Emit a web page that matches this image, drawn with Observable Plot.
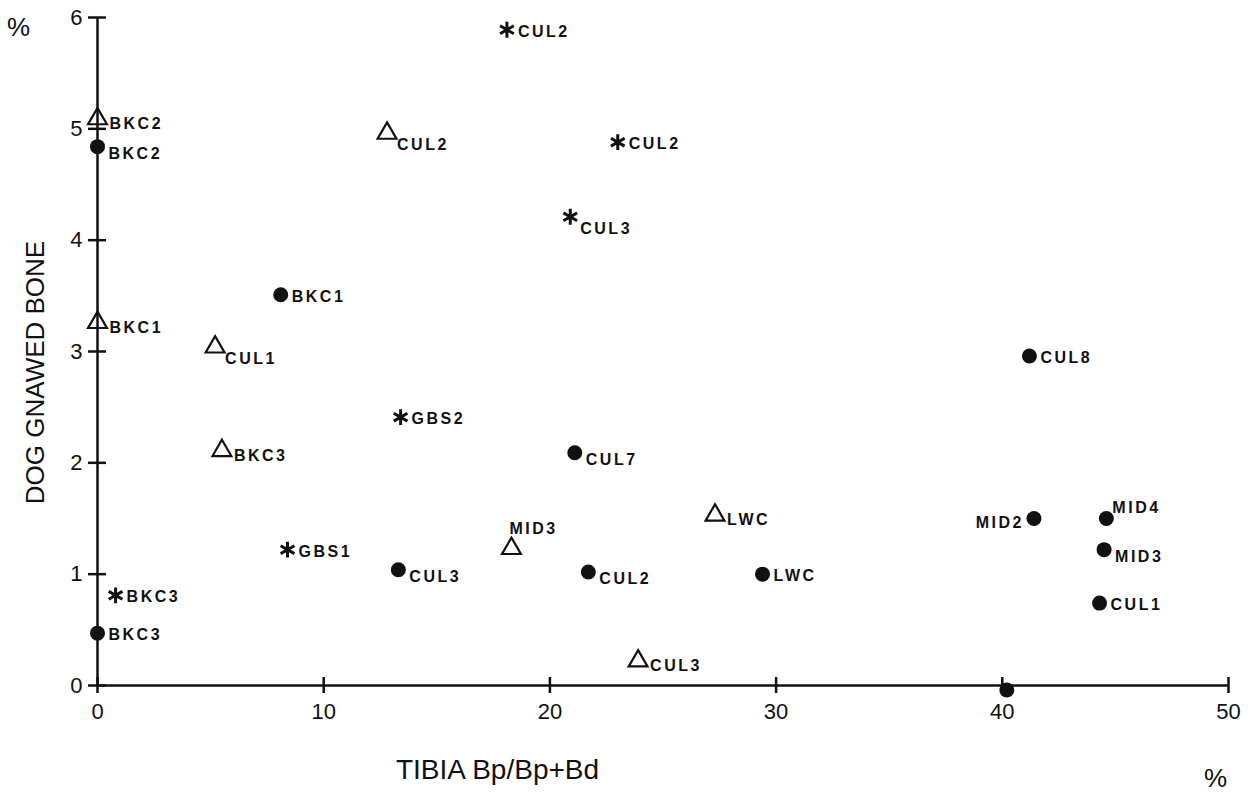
<!DOCTYPE html>
<html>
<head>
<meta charset="utf-8">
<script src="https://cdn.jsdelivr.net/npm/d3@7"></script>
<script src="https://cdn.jsdelivr.net/npm/@observablehq/plot@0.6"></script>
<style>
  html, body { margin: 0; padding: 0; background: #fff; }
  svg { display: block; }
  g[font-weight="bold"] text { letter-spacing: 2.5px; }
</style>
</head>
<body>
<div id="chart"></div>
<script>
// ---- data ----
const xTicks = [0, 10, 20, 30, 40, 50];
const yTicks = [0, 1, 2, 3, 4, 5, 6];
const xTitle = "TIBIA Bp/Bp+Bd";
const yTitle = "DOG GNAWED BONE";
const unitLabel = "%";

// filled circles
const circleNames = ["BKC2", "BKC1", "BKC3", "CUL3", "CUL7", "CUL2", "LWC", "CUL8", "MID2", "MID4", "MID3", "CUL1", ""];
const circleX     = [0, 8.1, 0, 13.3, 21.1, 21.7, 29.4, 41.2, 41.4, 44.6, 44.5, 44.3, 40.2];
const circleY     = [4.84, 3.51, 0.47, 1.04, 2.09, 1.02, 1.00, 2.96, 1.50, 1.50, 1.22, 0.74, -0.04];
const circleSide  = ["rd", "r", "r", "rd", "rd", "rd", "r", "r", "l", "ur", "rd", "r", "r"];

// open triangles
const triangleNames = ["BKC2", "BKC1", "CUL1", "BKC3", "CUL2", "MID3", "LWC", "CUL3"];
const triangleX     = [0, 0, 5.2, 5.5, 12.8, 18.3, 27.3, 23.9];
const triangleY     = [5.09, 3.26, 3.04, 2.11, 4.96, 1.23, 1.53, 0.22];
const triangleSide  = ["rt", "rt", "sub", "rt", "sub", "up", "rt", "rt"];

// asterisks
const asteriskNames = ["CUL2", "CUL2", "CUL3", "GBS2", "GBS1", "BKC3"];
const asteriskX     = [18.1, 23.0, 20.9, 13.4, 8.4, 0.8];
const asteriskY     = [5.89, 4.88, 4.21, 2.41, 1.22, 0.81];
const asteriskSide  = ["r", "r", "sub", "r", "r", "r"];

// ---- build rows ----
const rows = (names, xs, ys, sides) => names.map((n, i) => ({name: n, x: xs[i], y: ys[i], side: sides[i]}));
const circles = rows(circleNames, circleX, circleY, circleSide);
const triangles = rows(triangleNames, triangleX, triangleY, triangleSide);
const asterisks = rows(asteriskNames, asteriskX, asteriskY, asteriskSide);
const allPts = [...circles, ...triangles, ...asterisks];

const placement = {
  r:   {dx: 11, dy: 2,   anchor: "start"},
  rt:  {dx: 12, dy: 5,   anchor: "start"},
  rd:  {dx: 11, dy: 7,   anchor: "start"},
  sub: {dx: 10, dy: 12,  anchor: "start"},
  up:  {dx: -2, dy: -20, anchor: "start"},
  ur:  {dx: 6,  dy: -11, anchor: "start"},
  l:   {dx: -10, dy: 4,  anchor: "end"}
};

const labelMarks = Object.entries(placement).map(([key, p]) =>
  Plot.text(allPts.filter(d => d.side === key && d.name), {
    x: "x", y: "y", text: "name",
    dx: p.dx, dy: p.dy, textAnchor: p.anchor,
    fontSize: 16, fontWeight: "bold", fill: "#111"
  })
);

const font = "'Liberation Sans', Arial, Helvetica, sans-serif";

const chart = Plot.plot({
  width: 1253,
  height: 799,
  marginLeft: 97,
  marginRight: 25,
  marginTop: 17,
  marginBottom: 114,
  style: {fontFamily: font, background: "#fff", color: "#111"},
  x: {domain: [0, 50]},
  y: {domain: [0, 6]},
  marks: [
    Plot.ruleX([0], {y1: 0, y2: 6, stroke: "#111", strokeWidth: 2.5}),
    Plot.ruleY([0], {x1: 0, x2: 50, stroke: "#111", strokeWidth: 2.5}),
    Plot.axisY({ticks: yTicks, tickSize: 18, dx: 9, tickPadding: 6, fontSize: 22, strokeWidth: 2.5, label: null, tickFormat: d => d}),
    Plot.axisX({ticks: xTicks, tickSize: 16, dy: -8, tickPadding: 10, fontSize: 22, strokeWidth: 2.5, label: null, tickFormat: d => d}),
    Plot.dot(circles, {x: "x", y: "y", r: 7.5, fill: "#111", stroke: "none"}),
    Plot.dot(triangles, {x: "x", y: "y", symbol: "triangle", r: 7, fill: "none", stroke: "#111", strokeWidth: 2.2}),
    Plot.dot(asterisks, {x: "x", y: "y", symbol: "asterisk", r: 7.5, stroke: "#111", strokeWidth: 3}),
    ...labelMarks,
    Plot.text([yTitle], {text: d => d, frameAnchor: "left", textAnchor: "middle", rotate: -90, dx: -62, dy: 21, fontSize: 26, fill: "#111"}),
    Plot.text([xTitle], {text: d => d, frameAnchor: "bottom-left", textAnchor: "middle", dx: 400, dy: 93, fontSize: 28, fill: "#111"}),
    Plot.text([unitLabel], {text: d => d, frameAnchor: "top-left", textAnchor: "middle", dx: -79, dy: 0, fontSize: 26, fill: "#111"}),
    Plot.text([unitLabel], {text: d => d, frameAnchor: "bottom-right", textAnchor: "middle", dx: -13, dy: 101, fontSize: 26, fill: "#111"})
  ]
});
document.getElementById("chart").appendChild(chart);
</script>
</body>
</html>
